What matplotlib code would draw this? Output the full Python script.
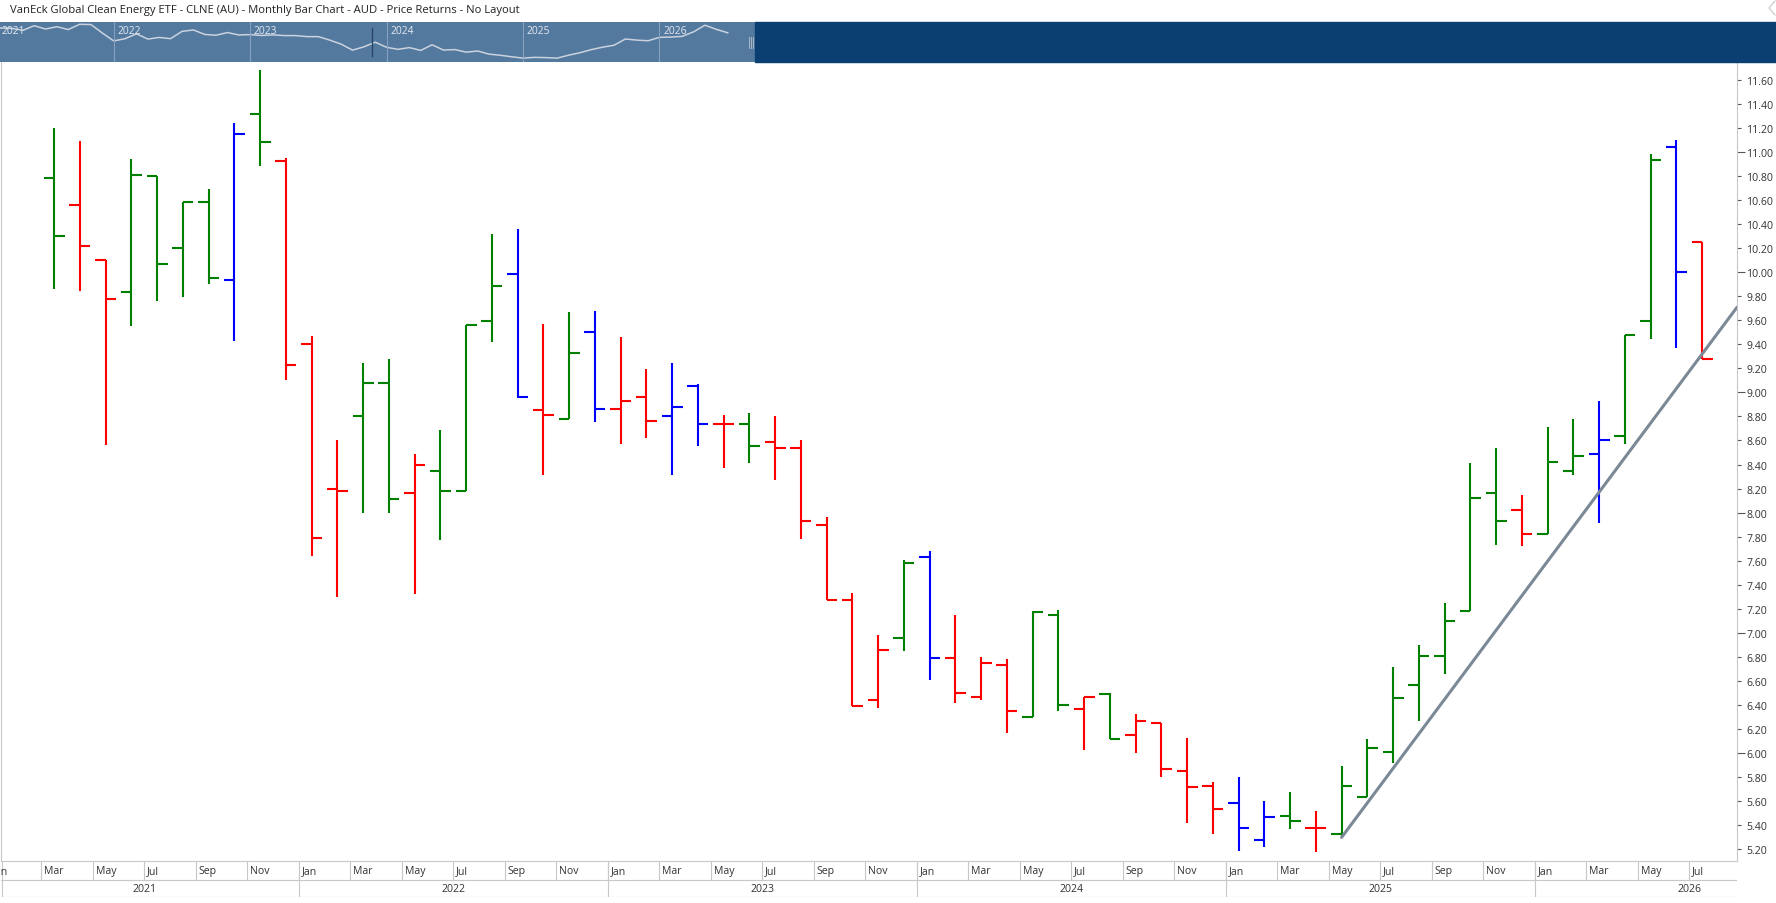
import numpy as np
import pandas as pd
import matplotlib
matplotlib.use("Agg")
import matplotlib.pyplot as plt
from matplotlib.lines import Line2D
from matplotlib.patches import Rectangle
import matplotlib.transforms as mtransforms
from matplotlib.ticker import FixedLocator, FormatStrFormatter

plt.rcParams['font.family'] = ['Open Sans', 'DejaVu Sans']

# --- Data (monthly OHLC, Mar 2021 .. Jul 2026)
months = pd.period_range('2021-03', '2026-07', freq='M')

opens = [10.78, 10.56, 10.10, 9.83, 10.80, 10.20, 10.58, 9.93, 11.31, 10.92,
         9.40, 8.20, 8.80, 9.08, 8.16, 8.35, 8.18, 9.59, 9.98, 8.85, 8.78, 9.50,
         8.86, 8.96, 8.80, 9.05, 8.74, 8.74, 8.59, 8.54, 7.90, 7.27, 6.44, 6.96,
         7.63, 6.79, 6.47, 6.73, 6.30, 7.15, 6.37, 6.49, 6.15, 6.25, 5.85, 5.73,
         5.59, 5.28, 5.48, 5.38, 5.33, 5.64, 6.01, 6.57, 6.81, 7.18, 8.16, 8.02,
         7.82, 8.35, 8.49, 8.64, 9.59, 11.04, 10.25]
highs = [11.20, 11.09, 10.10, 10.94, 10.80, 10.58, 10.69, 11.24, 11.68, 10.95,
         9.47, 8.60, 9.24, 9.28, 8.49, 8.69, 9.56, 10.32, 10.36, 9.57, 9.67, 9.68,
         9.46, 9.19, 9.24, 9.07, 8.81, 8.83, 8.80, 8.60, 7.96, 7.33, 6.98, 7.61,
         7.68, 7.15, 6.80, 6.78, 7.18, 7.19, 6.47, 6.50, 6.33, 6.25, 6.13, 5.76,
         5.80, 5.60, 5.68, 5.52, 5.89, 6.12, 6.72, 6.90, 7.25, 8.41, 8.54, 8.15,
         8.71, 8.78, 8.93, 9.48, 10.98, 11.10, 10.25]
lows = [9.86, 9.84, 8.56, 9.55, 9.76, 9.79, 9.90, 9.43, 10.88, 9.10,
        7.64, 7.30, 8.00, 8.00, 7.32, 7.77, 8.18, 9.42, 8.95, 8.31, 8.78, 8.75,
        8.57, 8.62, 8.31, 8.55, 8.37, 8.41, 8.27, 7.78, 7.27, 6.39, 6.38, 6.85,
        6.61, 6.42, 6.44, 6.17, 6.30, 6.35, 6.03, 6.12, 6.00, 5.80, 5.42, 5.33,
        5.19, 5.22, 5.37, 5.18, 5.30, 5.64, 5.92, 6.27, 6.66, 7.18, 7.73, 7.72,
        7.82, 8.31, 7.91, 8.57, 9.44, 9.37, 9.28]
closes = [10.30, 10.22, 9.78, 10.81, 10.07, 10.58, 9.95, 11.15, 11.08, 9.23,
          7.79, 8.18, 9.08, 8.11, 8.40, 8.18, 9.56, 9.88, 8.96, 8.81, 9.33, 8.86,
          8.93, 8.76, 8.88, 8.74, 8.74, 8.55, 8.54, 7.93, 7.27, 6.39, 6.86, 7.58,
          6.79, 6.50, 6.75, 6.35, 7.17, 6.40, 6.47, 6.12, 6.27, 5.87, 5.72, 5.54,
          5.38, 5.47, 5.44, 5.38, 5.73, 6.04, 6.46, 6.81, 7.10, 8.12, 7.93, 7.82,
          8.42, 8.47, 8.60, 9.48, 10.93, 10.00, 9.28]

month_labels = ['Jan', 'Mar', 'May', 'Jul', 'Sep', 'Nov']
years = [2021, 2022, 2023, 2024, 2025, 2026]

# trendline drawn from the May 2025 low
trend_start = '2025-05'
trend_start_value = 5.30
trend_slope = 0.287   # per month

title = ("VanEck Global Clean Energy ETF - CLNE (AU) - Monthly Bar Chart - AUD - "
         "Price Returns - No Layout")

# --- Geometry (pixels of a 1776x904 canvas)
W_PX, H_PX = 1776, 904
def fx(px):
    return px / W_PX
def fy(py):
    return 1 - py / H_PX

# month index counted from Jan 2021
m_idx = np.array([(p.year - 2021) * 12 + p.month - 1 for p in months])
xc = m_idx + 0.5

# --- Bar colours: higher high/low green, lower red, outside blue, inside keeps
cols = []
for i in range(len(opens)):
    if i == 0:
        cols.append('#008000')
        continue
    up = highs[i] > highs[i - 1]
    down = lows[i] < lows[i - 1]
    if up and down:
        cols.append('#0000ff')
    elif up:
        cols.append('#008000')
    elif down:
        cols.append('#ff0000')
    else:
        cols.append(cols[-1])

fig = plt.figure(figsize=(W_PX / 100, H_PX / 100), dpi=100)

x0, x1 = 0.4388, 67.856
ax = fig.add_axes([fx(1), fy(862), fx(1737) - fx(1), fy(63) - fy(862)])
ax.set_xlim(x0, x1)
ax.set_ylim(5.104, 11.746)

tw = 0.41
ax.vlines(xc, lows, highs, colors=cols, lw=1.5)
ax.hlines(opens, xc - tw, xc, colors=cols, lw=1.5)
ax.hlines(closes, xc, xc + tw, colors=cols, lw=1.5)

# trendline
ts = pd.Period(trend_start, freq='M')
tm = (ts.year - 2021) * 12 + ts.month - 1 + 0.5
ax.plot([tm, x1], [trend_start_value, trend_start_value + trend_slope * (x1 - tm)],
        color='#7b8896', lw=2.2, solid_capstyle='round', zorder=3)

# right price axis
ax.yaxis.tick_right()
major = [v for v in np.arange(6, 12)]
minor = [round(v, 2) for v in np.arange(5.2, 11.61, 0.2) if abs(v - round(v)) > 1e-6]
ax.yaxis.set_major_locator(FixedLocator(major))
ax.yaxis.set_minor_locator(FixedLocator(minor))
ax.yaxis.set_major_formatter(FormatStrFormatter('%.2f'))
ax.yaxis.set_minor_formatter(FormatStrFormatter('%.2f'))
ax.tick_params(axis='y', which='major', length=5.8, width=0.8, pad=0.8,
               colors='#555555', labelcolor='#333333', labelsize=7.6)
ax.tick_params(axis='y', which='minor', length=2.9, width=0.8, pad=3.7,
               colors='#555555', labelcolor='#333333', labelsize=7.6)
ax.set_xticks([])
ax.spines['top'].set_visible(False)
for s in ['left', 'right', 'bottom']:
    ax.spines[s].set_color('#c8c8c8')
    ax.spines[s].set_linewidth(0.8)

# --- Date strip under the chart
ax2 = fig.add_axes([fx(1), fy(898), fx(1737) - fx(1), fy(862) - fy(898)])
ax2.set_xlim(x0, x1)
ax2.set_ylim(0, 36)
ax2.axis('off')
grid_c = '#c8c8c8'
ax2.axhline(17, color=grid_c, lw=0.8)
ax2.axhline(0.4, color=grid_c, lw=0.8)
ax2.axvline(x0 + 0.02, color=grid_c, lw=0.8)
for m in range(0, 67, 2):
    ax2.plot([m, m], [17, 36], color=grid_c, lw=0.8)
    ax2.text(m + 0.12, 26.3, month_labels[(m % 12) // 2], ha='left', va='center',
             fontsize=7.6, color='#333333')
for k, yr in enumerate(years):
    m = 12 * k
    ax2.plot([m, m], [0, 36], color=grid_c, lw=0.8)
    ax2.text(m + 6, 8.3, str(yr), ha='center', va='center', fontsize=7.6,
             color='#333333')

# --- Navigator strip
nav = fig.add_axes([0, fy(63), fx(755), fy(23) - fy(63)])
nav.set_facecolor('#54799f')
nav.set_xlim(1.996, 68.40)
nav.set_yscale('log')
nav.set_ylim(4.95, 11.71)
nav.plot(m_idx, closes, color='#c9d2de', lw=1.1)
trans = mtransforms.blended_transform_factory(nav.transData, nav.transAxes)
for k, yr in enumerate(years):
    m = 12 * k
    if m > 2:
        nav.axvline(m, color='#86a0bd', lw=0.8)
    nav.text(max(m + 0.32, 2.146), 0.8, str(yr), transform=trans, ha='left',
             va='center', fontsize=7.4, color='#e3e8ef')
nav.set_xticks([])
nav.set_yticks([])
nav.minorticks_off()
for s in nav.spines.values():
    s.set_visible(False)

fig.patches.append(Rectangle((fx(755), fy(63)), fx(1776) - fx(755), fy(23) - fy(63),
                             transform=fig.transFigure, color='#0b3e71', zorder=0))
# small grip and marker in the navigator
for gx in [748.5, 750.5, 752.5]:
    fig.add_artist(Line2D([fx(gx), fx(gx)], [fy(38), fy(49)], color='#a9b6c6', lw=0.7))
fig.add_artist(Line2D([fx(372), fx(372)], [fy(29), fy(57)], color='#27466a', lw=1.0))

# title and corner chevron
fig.text(fx(10), fy(11), title, ha='left', va='center', fontsize=8.1, color='#222222')
fig.add_artist(Line2D([fx(1775), fx(1769), fx(1775)], [fy(2), fy(9), fy(16)],
                      color='#c4c4c4', lw=0.8))

plt.savefig('out.png', dpi=100)
plt.close()
